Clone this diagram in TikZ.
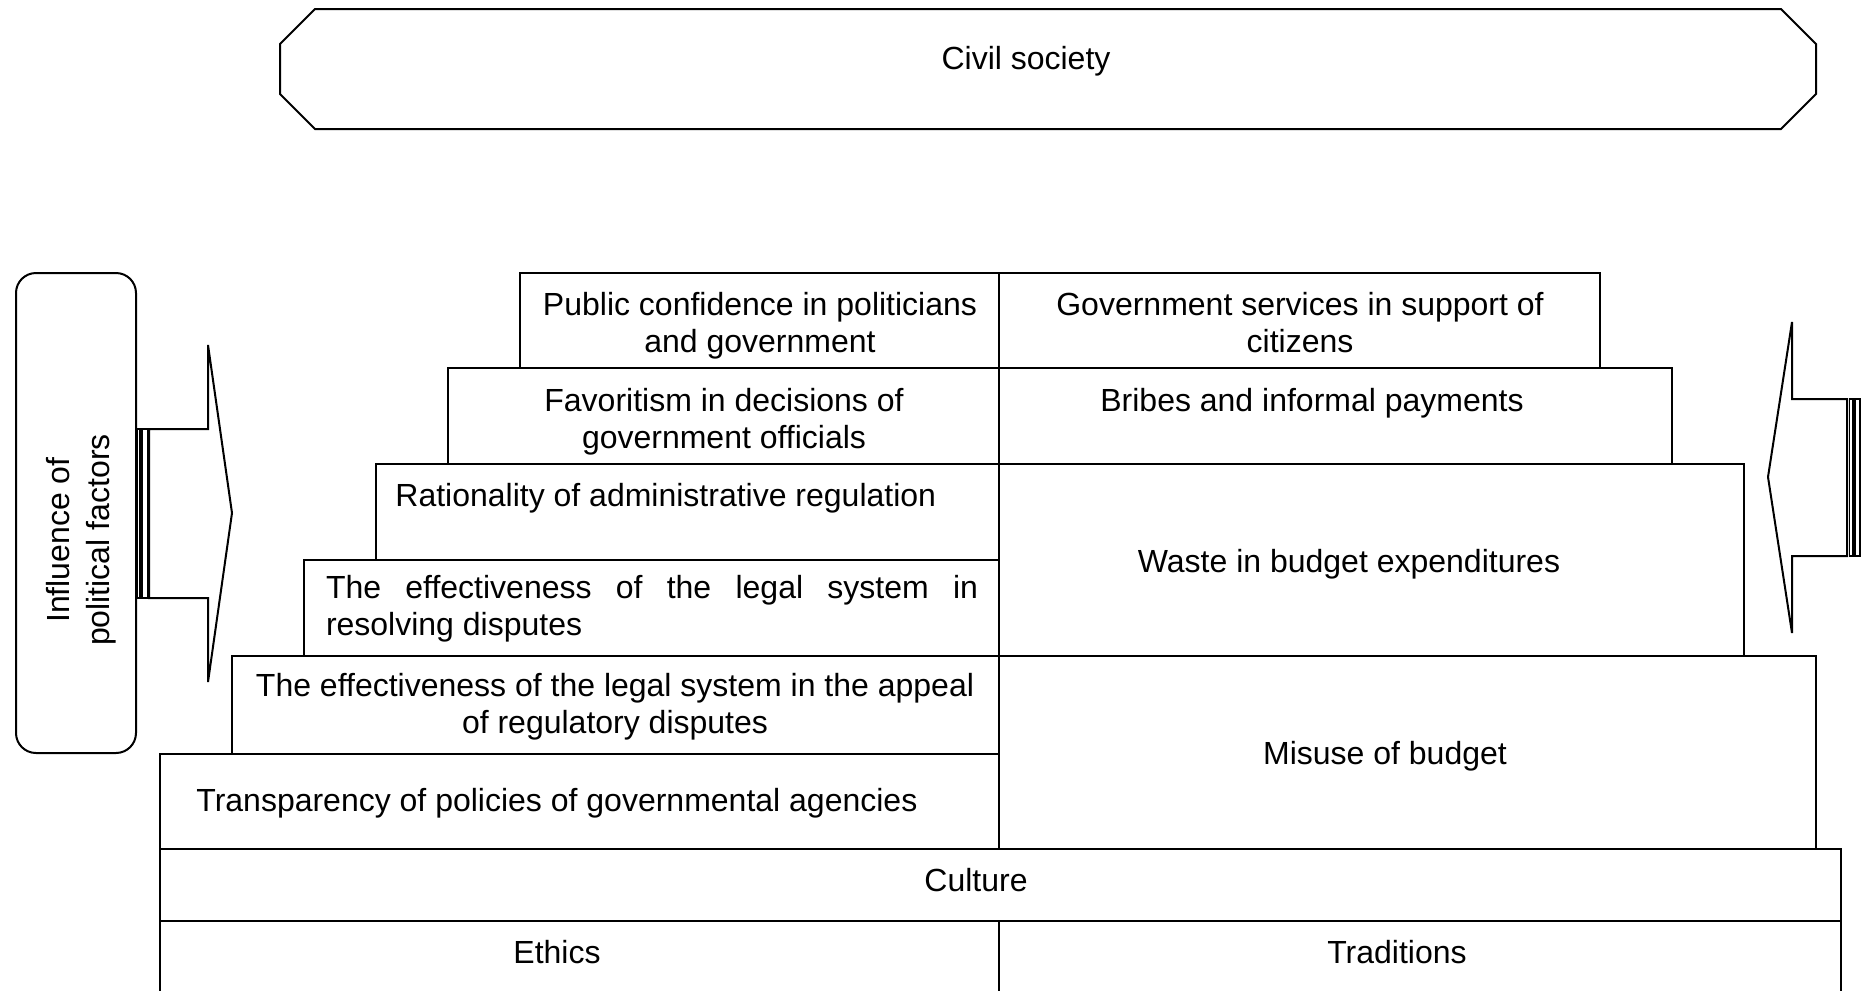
\documentclass[tikz,border=0pt]{standalone}
\usepackage{fontspec}
\setmainfont{Liberation Sans}
\tolerance=9999
\hbadness=10000
\hyphenpenalty=10000
\exhyphenpenalty=10000
\begin{document}
\begin{tikzpicture}[x=0.5pt,y=-0.5pt,
  line/.style={draw=black,line width=1pt},
  thin line/.style={draw=black,line width=0.6pt},
  lbl/.style={font=\fontsize{16}{18.5}\selectfont, inner sep=0pt, align=center},
]
\useasboundingbox (0,0) rectangle (1870,991);
\fill[white] (0,0) rectangle (1870,991);

% Civil society
\draw[line] (315,9) -- (1781,9) -- (1816,44) -- (1816,94) -- (1781,129) -- (315,129) -- (280,94) -- (280,44) -- cycle;
\node[lbl] (civil) at (1026,61) {Civil society};

% Influence box
\draw[line, rounded corners=10pt] (16,273) rectangle (136,753);
\node[lbl, rotate=90, font=\fontsize{16}{20}\selectfont] (infl) at (81,540) {Influence of\\political factors};

% left striped arrow
\draw[thin line] (137,429) rectangle (140,598);
\draw[thin line] (142,429) rectangle (147.5,598);
\draw[line] (149,429) -- (208,429) -- (208,345) -- (232,513) -- (208,682) -- (208,598) -- (149,598) -- cycle;

% right striped arrow
\draw[line] (1768,477) -- (1792,322) -- (1792,399) -- (1847,399) -- (1847,556) -- (1792,556) -- (1792,633) -- cycle;
\draw[thin line] (1849.5,399) rectangle (1853,556);
\draw[thin line] (1855,399) rectangle (1860,556);

% staircase left
\draw[line] (520,273) rectangle (999,368);
\draw[line] (448,368) rectangle (999,464);
\draw[line] (376,464) rectangle (999,560);
\draw[line] (304,560) rectangle (999,656);
\draw[line] (232,656) rectangle (999,754);
\draw[line] (160,754) rectangle (999,849);
% staircase right
\draw[line] (999,273) rectangle (1600,368);
\draw[line] (999,368) rectangle (1672,464);
\draw[line] (999,464) rectangle (1744,656);
\draw[line] (999,656) rectangle (1816,849);
% culture
\draw[line] (160,849) rectangle (1841,921);
% ethics / traditions
\draw[line] (160,993) -- (160,921) -- (1841,921) -- (1841,993);
\draw[line] (999,921) -- (999,993);

% texts
\node[lbl] (t1l) at (760,326) {Public confidence in politicians\\and government};
\node[lbl] (t1r) at (1300,323) {Government services in support of\\citizens};
\node[lbl] (t2l) at (724,422) {Favoritism in decisions of\\government officials};
\node[lbl] (t2r) at (1312,403) {Bribes and informal payments};
\node[lbl, anchor=west] (t3l) at (395,498) {Rationality of administrative regulation};
\node[lbl, text width=326pt, align=justify] (t4l) at (652,609) {The effectiveness of the legal system in resolving disputes};
\node[lbl] (t5l) at (615,707) {The effectiveness of the legal system in the appeal\\of regulatory disputes};
\node[lbl, anchor=west] (t6l) at (196,803) {Transparency of policies of governmental agencies};
\node[lbl] (waste) at (1349,564) {Waste in budget expenditures};
\node[lbl] (misuse) at (1385,756) {Misuse of budget};
\node[lbl] (culture) at (976,880) {Culture};
\node[lbl] (ethics) at (557,952) {Ethics};
\node[lbl] (trad) at (1397,952) {Traditions};
\end{tikzpicture}
\end{document}
